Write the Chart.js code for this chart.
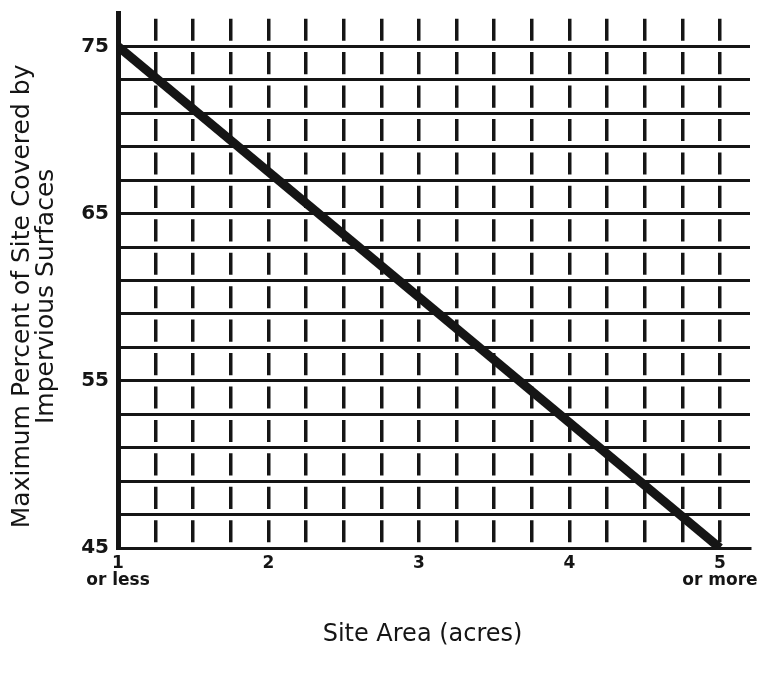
<!DOCTYPE html>
<html>
<head>
<meta charset="utf-8">
<script src="https://cdn.jsdelivr.net/npm/chart.js@4.4.1/dist/chart.umd.min.js"></script>
<style>
  html, body { margin: 0; padding: 0; background: #fff; }
  #wrap { width: 765px; height: 673px; }
</style>
</head>
<body>
<div id="wrap"><canvas id="siteChart" width="765" height="673"></canvas></div>
<script>
// Site area (acres) vs. maximum percent of site covered by impervious surfaces
const siteArea = [1, 5];
const maxCover = [75, 45];

// grid positions and labelled ticks
const xGridValues = [1, 1.25, 1.5, 1.75, 2, 2.25, 2.5, 2.75, 3, 3.25, 3.5, 3.75, 4, 4.25, 4.5, 4.75, 5];
const xLabelValues = [1, 2, 3, 4, 5];
const xLabelText = [["1", "or less"], "2", "3", "4", ["5", "or more"]];
const yGridValues = [45, 47, 49, 51, 53, 55, 57, 59, 61, 63, 65, 67, 69, 71, 73, 75];
const yLabelValues = [45, 55, 65, 75];

const ink = "#151515";
const face = "'DejaVu Sans', Verdana, sans-serif";

// height of one grid row in pixels, so the vertical dashes break at each horizontal line
function rowHeight(chart) {
    const y = chart.scales && chart.scales.y;
    if (!y) return 33;
    const h = Math.abs(y.getPixelForValue(yGridValues[1]) - y.getPixelForValue(yGridValues[0]));
    return h || 33;
}

new Chart(document.getElementById("siteChart"), {
    type: "line",
    data: {
        datasets: [{
            data: siteArea.map((x, i) => ({ x: x, y: maxCover[i] })),
            borderColor: ink,
            borderWidth: 9,
            pointRadius: 0,
            tension: 0,
        }],
    },
    options: {
        responsive: false,
        animation: false,
        layout: { padding: { left: 0, right: 15, top: 13, bottom: 0 } },
        plugins: { legend: { display: false }, tooltip: { enabled: false } },
        scales: {
            x: {
                type: "linear",
                min: 1,
                max: 5.2,
                afterBuildTicks: (s) => { s.ticks = xGridValues.map((v) => ({ value: v })); },
                afterFit: (s) => { s.height = 125; s.paddingLeft = 0; s.paddingRight = 0; },
                ticks: {
                    autoSkip: false,
                    maxRotation: 0,
                    padding: 7,
                    color: ink,
                    font: { family: face, size: 17, weight: "bold", lineHeight: 1.0 },
                    callback: (v) => {
                        const i = xLabelValues.indexOf(v);
                        return i < 0 ? "" : xLabelText[i];
                    },
                },
                grid: { color: ink, lineWidth: 3.5, drawTicks: false },
                border: {
                    display: true,
                    color: ink,
                    width: 3,
                    dash: (ctx) => { const h = rowHeight(ctx.chart); return [h * 0.66, h * 0.34]; },
                    dashOffset: (ctx) => { const h = rowHeight(ctx.chart); return h * 0.66 + h * 0.17; },
                },
                title: {
                    display: true,
                    text: "Site Area (acres)   ",
                    color: ink,
                    font: { family: face, size: 24, lineHeight: 1 },
                    padding: { top: 0, bottom: 26 },
                },
            },
            y: {
                min: 45,
                max: 77,
                afterBuildTicks: (s) => { s.ticks = yGridValues.map((v) => ({ value: v })); },
                afterFit: (s) => { s.width = 118; s.paddingTop = 0; s.paddingBottom = 0; },
                ticks: {
                    padding: 9,
                    color: ink,
                    font: { family: face, size: 20, weight: "bold" },
                    callback: (v) => (yLabelValues.indexOf(v) < 0 ? "" : String(v)),
                },
                grid: { color: ink, lineWidth: 3, drawTicks: false },
                border: { display: true, color: ink, width: 5 },
                title: {
                    display: true,
                    text: ["Maximum Percent of Site Covered by    ", "Impervious Surfaces    "],
                    color: ink,
                    font: { family: face, size: 25, lineHeight: 0.96 },
                    padding: { top: 10, bottom: 0 },
                },
            },
        },
    },
});
</script>
</body>
</html>
